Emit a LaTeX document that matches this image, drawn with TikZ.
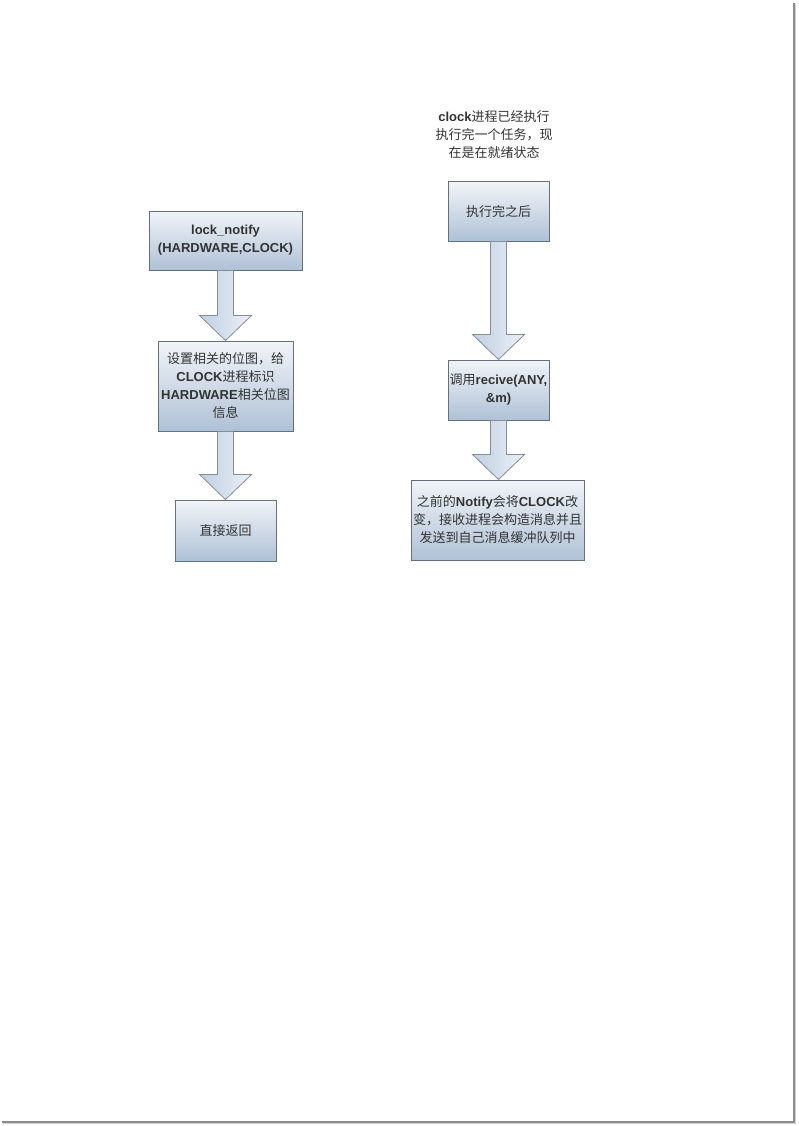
\documentclass[tikz,border=0pt]{standalone}
\usepackage{fontspec}
\setmainfont{Liberation Sans}
\newfontfamily\cjkfont{Noto Sans CJK SC}
\usetikzlibrary{calc}
\usepackage{xcolor}
\definecolor{boxtop}{HTML}{F1F4F8}
\definecolor{boxbot}{HTML}{AFC1D6}
\definecolor{boxline}{HTML}{66707C}
\definecolor{arrfill}{HTML}{BFCFE3}
\definecolor{txtgray}{HTML}{333333}
\newcommand{\zh}[1]{{\mdseries\cjkfont #1}}
\newcommand{\blockarrow}[2]{%
  \draw[blk] let \p1=(#1.south), \p2=(#2.north) in
    (\x1-8,\y1) -- (\x1-8,\y2+25) -- (\x1-26,\y2+25) -- (\x1,\y2)
    -- (\x1+26,\y2+25) -- (\x1+8,\y2+25) -- (\x1+8,\y1) -- cycle;}

\begin{document}
\begin{tikzpicture}[
    x=1pt, y=-1pt,
    font=\fontsize{13}{18}\selectfont\bfseries,
    box/.style={draw=boxline, top color=boxtop, bottom color=boxbot, line width=1pt, inner sep=0pt, align=center, text=txtgray},
    blk/.style={draw=boxline!80, left color=arrfill, right color=arrfill!30, line width=0.8pt, line join=miter},
]
\useasboundingbox (0,0) rectangle (798,1126);
\fill[white] (0,0) rectangle (798,1126);
% page shadow
\fill[gray!90] (793,3) rectangle (795,1123);
\fill[gray!90] (2,1121) rectangle (795,1123);
\fill[gray!35] (795,4) rectangle (796,1124);
\fill[gray!35] (3,1123) rectangle (796,1124);

% left column
\node[box, minimum width=153, minimum height=59] (notify) at (225.5,240.5) {lock\_notify\\(HARDWARE,CLOCK)};
\node[box, minimum width=135, minimum height=90] (setbits) at (225.5,386) {\zh{设置相关的位图，给}\\CLOCK\zh{进程标识}\\HARDWARE\zh{相关位图}\\\zh{信息}};
\node[box, minimum width=101, minimum height=61] (ret) at (225.5,530.5) {\zh{直接返回}};
\blockarrow{notify}{setbits}
\blockarrow{setbits}{ret}

% right column
\node[align=center, text=txtgray] (state) at (494,135) {clock\zh{进程已经执行}\\\zh{执行完一个任务，现}\\\zh{在是在就绪状态}};
\node[box, minimum width=101, minimum height=59] (done) at (498.5,211.5) {\zh{执行完之后}};
\node[box, minimum width=101, minimum height=60] (recv) at (498.5,390) {\zh{调用}recive(ANY,\\\&m)};
\node[box, minimum width=173, minimum height=80] (queue) at (497.5,520) {\zh{之前的}Notify\zh{会将}CLOCK\zh{改}\\\zh{变，接收进程会构造消息并且}\\\zh{发送到自己消息缓冲队列中}};
\blockarrow{done}{recv}
\blockarrow{recv}{queue}
\end{tikzpicture}
\end{document}
